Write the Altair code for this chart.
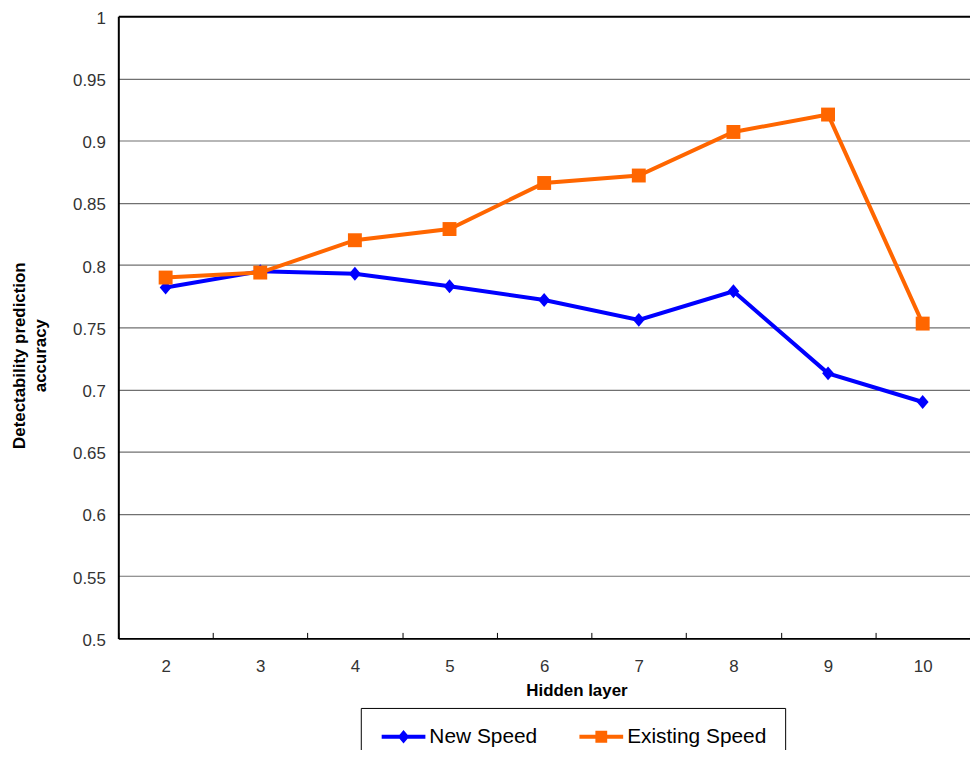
import altair as alt
import pandas as pd

hidden_layers = [2, 3, 4, 5, 6, 7, 8, 9, 10]
new_speed = [0.782, 0.795, 0.793, 0.783, 0.772, 0.756, 0.779, 0.713, 0.690]
existing_speed = [0.790, 0.794, 0.820, 0.829, 0.866, 0.872, 0.907, 0.921, 0.753]
series_names = ["New Speed", "Existing Speed"]
series_colors = ["#0000FF", "#FF6600"]
y_ticks = [0.5, 0.55, 0.6, 0.65, 0.7, 0.75, 0.8, 0.85, 0.9, 0.95, 1.0]

# chart marker for the first series (slightly tall diamond); second uses "square"
diamond_path = "M0,-1L0.85,0L0,1L-0.85,0Z"
# legend symbols: a short line with the marker on it
legend_shapes = [
    "M-2,-0.19L2,-0.19L2,0.19L-2,0.19Z M0,-0.62L0.52,0L0,0.62L-0.52,0Z",
    "M-2,-0.19L2,-0.19L2,0.19L-2,0.19Z M-0.54,-0.54L0.54,-0.54L0.54,0.54L-0.54,0.54Z",
]

df = pd.DataFrame({
    "layer": hidden_layers + hidden_layers,
    "value": new_speed + existing_speed,
    "series": [series_names[0]] * len(hidden_layers) + [series_names[1]] * len(hidden_layers),
})

FONT = "Liberation Sans"
GRID = "#707070"

x_enc = alt.X(
    "layer:O",
    sort=hidden_layers,
    scale=alt.Scale(type="band", paddingInner=0, paddingOuter=0),
    axis=alt.Axis(
        title="Hidden layer",
        labelAngle=0,
        domain=False,
        grid=False,
        ticks=True,
        tickBand="extent",
        tickSize=6,
        tickColor="#000000",
        tickWidth=1,
        offset=-6,
        labelPadding=20,
        labelFontSize=17,
        labelFont=FONT,
        labelColor="#333333",
        titleFont=FONT,
        titleFontSize=17,
        titleFontWeight="bold",
        titleColor="#000000",
        titlePadding=8,
        titleX=461,
    ),
)
y_enc = alt.Y(
    "value:Q",
    scale=alt.Scale(domain=[0.5, 1.0], nice=False, zero=False),
    axis=alt.Axis(
        title=["Detectability prediction", "accuracy"],
        values=y_ticks,
        format="~g",
        domain=True,
        domainColor="#000000",
        domainWidth=2,
        ticks=False,
        tickSize=0,
        grid=True,
        gridColor=alt.condition("datum.value == 1 || datum.value == 0.5",
                                alt.value("#000000"), alt.value(GRID)),
        gridWidth=alt.condition("datum.value == 1 || datum.value == 0.5",
                                alt.value(2), alt.value(1.2)),
        labelPadding=13,
        labelOffset=2,
        labelFontSize=17,
        labelFont=FONT,
        labelColor="#333333",
        titleFont=FONT,
        titleFontSize=17,
        titleFontWeight="bold",
        titleColor="#000000",
        titleLineHeight=21,
        titlePadding=23,
        titleY=341,
    ),
)

is_new = alt.datum.series == series_names[0]

lines = alt.Chart(df).mark_line(strokeWidth=4).encode(
    x=x_enc,
    y=y_enc,
    stroke=alt.condition(is_new, alt.value(series_colors[0]), alt.value(series_colors[1])),
    detail="series:N",
)

points = alt.Chart(df).mark_point(filled=True, opacity=1, size=196, strokeWidth=0).encode(
    x=x_enc,
    y=y_enc,
    fill=alt.condition(is_new, alt.value(series_colors[0]), alt.value(series_colors[1])),
    shape=alt.condition(is_new, alt.value(diamond_path), alt.value("square")),
)

legend_props = dict(
    title=None,
    orient="none",
    legendX=244,
    legendY=696,
    direction="horizontal",
    strokeColor="#000000",
    padding=18,
    symbolSize=484,
    symbolStrokeWidth=0,
    symbolOffset=14,
    labelOffset=15,
    columnPadding=39,
    labelFont=FONT,
    labelFontSize=21,
    labelColor="#000000",
)

legend_layer = alt.Chart(df).transform_filter(
    alt.datum.series == "__none__"
).mark_point(filled=True, opacity=1).encode(
    color=alt.Color("series:N", scale=alt.Scale(domain=series_names, range=series_colors),
                    legend=alt.Legend(**legend_props)),
    shape=alt.Shape("series:N", scale=alt.Scale(domain=series_names, range=legend_shapes),
                    legend=alt.Legend(**legend_props)),
)

chart = alt.layer(lines, points, legend_layer).properties(
    width=857,
    height=626,
    autosize=alt.AutoSizeParams(type="none"),
    padding={"left": 111, "top": 6, "right": 0, "bottom": 110},
).configure_view(
    strokeWidth=0,
).configure(background="#ffffff")

chart.save("out.html", embed_options={"renderer": "svg", "actions": False})
